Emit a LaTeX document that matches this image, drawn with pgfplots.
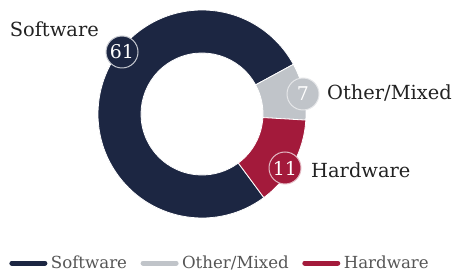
\documentclass[border=0pt]{standalone}
\usepackage{pgfplots}
\pgfplotsset{compat=1.18}
\usepackage{pgfplotstable}
\usepackage{fontspec}
\setmainfont{DejaVu Serif}
\definecolor{cnavy}{HTML}{1C2642}
\definecolor{cgray}{HTML}{C0C4C9}
\definecolor{cred}{HTML}{A31A3B}
\definecolor{ltext}{HTML}{222222}
\definecolor{lgtext}{HTML}{555555}

\pgfplotstableread{
label value
Software 61
Other/Mixed 7
Hardware 11
}\donutdata

\begin{document}
\begin{tikzpicture}
\pgfplotstablegetelem{0}{value}\of\donutdata \edef\va{\pgfplotsretval}
\pgfplotstablegetelem{1}{value}\of\donutdata \edef\vb{\pgfplotsretval}
\pgfplotstablegetelem{2}{value}\of\donutdata \edef\vc{\pgfplotsretval}
\pgfmathsetmacro{\tot}{\va+\vb+\vc}
\pgfmathsetmacro{\sA}{-53.5}
\pgfmathsetmacro{\eA}{\sA-360*(\va/\tot)}
\pgfmathsetmacro{\eB}{\eA-360*(\vb/\tot)}
\pgfmathsetmacro{\eC}{\eB-360*(\vc/\tot)}
\def\cx{202}\def\cy{158}
\newcommand{\wedgeseg}[3]{%
  \fill[#1, draw=white, line width=0.8bp] ([shift={(axis cs:\cx,\cy)}]#2:104bp) arc[start angle=#2, end angle=#3, radius=104bp] -- ([shift={(axis cs:\cx,\cy)}]#3:61bp) arc[start angle=#3, end angle=#2, radius=61bp] -- cycle;}
\begin{axis}[width=459bp,height=272bp,scale only axis,
  xmin=0,xmax=459,ymin=0,ymax=272,hide axis,clip=false,
  legend columns=3,
  legend image code/.code={\draw[#1, line width=5bp, line cap=round] (0bp,0bp) -- (33bp,0bp);},
  legend style={at={(0.02,0.033)},anchor=west,draw=none,fill=none,inner sep=0pt,
    font=\fontsize{16.7}{20}\selectfont, text=lgtext,
    nodes={inner xsep=3.5bp, inner ysep=1bp},
    /tikz/every even column/.append style={column sep=10bp}},
]
\path (rel axis cs:0,0) rectangle (rel axis cs:1,1);
\wedgeseg{cnavy}{\sA}{\eA}
\wedgeseg{cgray}{\eA}{\eB}
\wedgeseg{cred}{\eB}{\eC}
\addlegendimage{cnavy}\addlegendentry{Software}
\addlegendimage{cgray}\addlegendentry{Other/Mixed}
\addlegendimage{cred}\addlegendentry{Hardware}
% value badges
\node[circle,fill=cnavy,draw=white!75!cnavy,line width=1bp,minimum size=32bp,inner sep=0pt,text=white,font=\fontsize{19}{22}\selectfont] at (axis cs:122,220) {61};
\node[circle,fill=cgray,draw=white!60!cgray,line width=1bp,minimum size=32bp,inner sep=0pt,text=white,font=\fontsize{19}{22}\selectfont] at (axis cs:303,178) {7};
\node[circle,fill=cred,draw=white!70!cred,line width=1bp,minimum size=32bp,inner sep=0pt,text=white,font=\fontsize{19}{22}\selectfont] at (axis cs:285,104) {11};
% category labels
\node[anchor=base east,inner sep=0pt,text=ltext,font=\fontsize{19.5}{22}\selectfont] at (axis cs:99,235) {Software};
\node[anchor=base west,inner sep=0pt,text=ltext,font=\fontsize{19.5}{22}\selectfont] at (axis cs:327,172) {Other/Mixed};
\node[anchor=base west,inner sep=0pt,text=ltext,font=\fontsize{19.5}{22}\selectfont] at (axis cs:311,94) {Hardware};
\end{axis}
\end{tikzpicture}
\end{document}
